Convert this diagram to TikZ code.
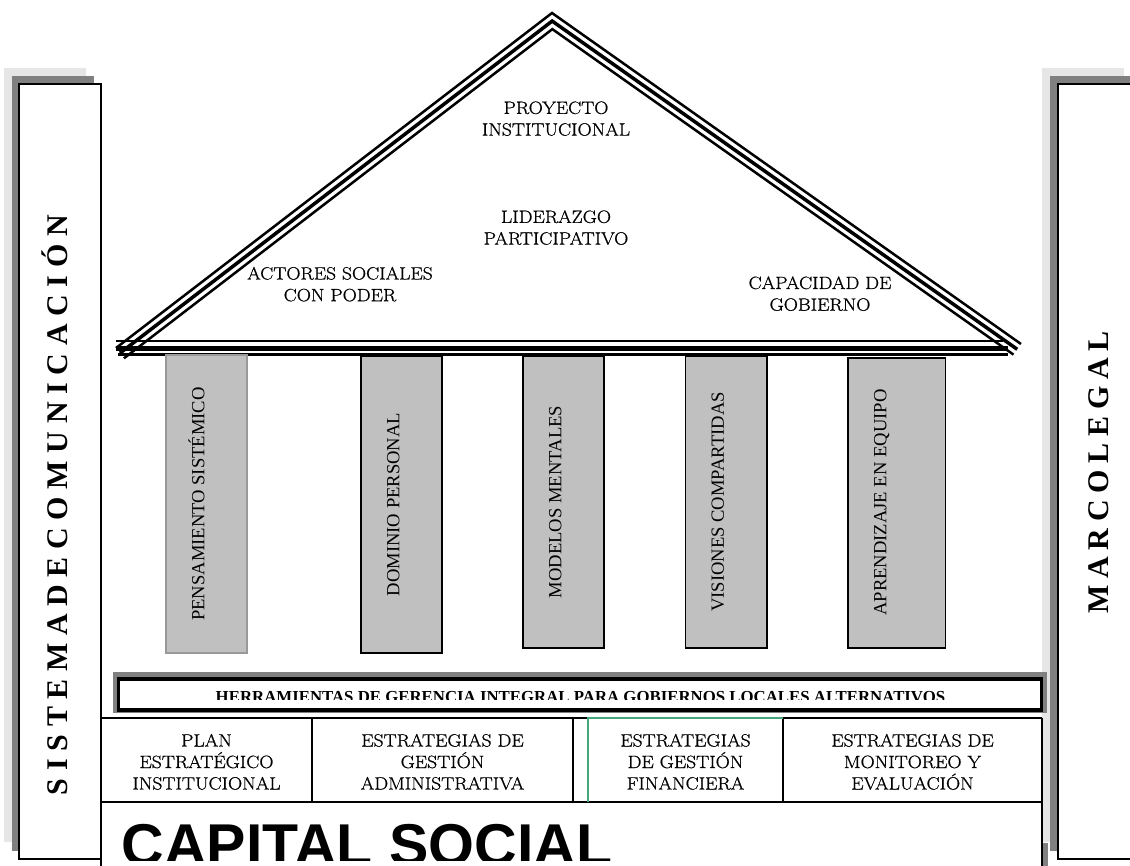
\documentclass[tikz,border=0pt]{standalone}
\usepackage{fontspec}
\newfontfamily\tnr{Liberation Serif}
\newfontfamily\arl{Liberation Sans}
\newfontfamily\lmheavy{Latin Modern Roman}[FakeBold=0.8, FakeStretch=1.1]
\definecolor{pillargray}{HTML}{C0C0C0}
\definecolor{shadowlight}{HTML}{E6E6E6}
\definecolor{shadowdark}{HTML}{808080}
\definecolor{pillaredge}{HTML}{999999}
\definecolor{cellgreen}{HTML}{45A77A}
\tikzset{
  lmtxt/.style={inner sep=0pt, anchor=base, font=\lmheavy\fontsize{17.8}{21.7}\selectfont},
  coltxt/.style={inner sep=0pt, anchor=base, rotate=90, font=\tnr\fontsize{18.6}{22}\selectfont},
  sidetxt/.style={inner sep=0pt, anchor=base, rotate=90, font=\tnr\bfseries\fontsize{30}{36}\selectfont},
  pillar/.style={fill=pillargray, draw=black, line width=1.5pt},
  thinborder/.style={draw=black, line width=1.3pt},
  roofline/.style={draw=black, line join=miter},
}
\begin{document}
\begin{tikzpicture}[x=1pt,y=-1pt]
\useasboundingbox (0,0) rectangle (1130,866);
\clip (0,0) rectangle (1130,866);

% ---------- left side bar ----------
\fill[shadowlight] (4,68) rectangle (86,842);
\fill[shadowdark] (12,76) rectangle (94,851);
\draw[thinborder, fill=white] (19,84) rectangle (101,859);
\node[sidetxt] (sistema) at (67,505) {\makebox[580pt][s]{S\hfill I\hfill S\hfill T\hfill E\hfill M\hfill A\hfill D\hfill E\hfill C\hfill O\hfill M\hfill U\hfill N\hfill I\hfill C\hfill A\hfill C\hfill I\hfill Ó\hfill N}};

% ---------- right side bar ----------
\fill[shadowlight] (1042,68) rectangle (1124,842);
\fill[shadowdark] (1050,76) rectangle (1132,851);
\draw[thinborder, fill=white] (1058,84) rectangle (1140,859);
\node[sidetxt] (marco) at (1108.5,472.5) {\makebox[282pt][s]{M\hfill A\hfill R\hfill C\hfill O\hfill L\hfill E\hfill G\hfill A\hfill L}};

% ---------- roof ----------
\draw[roofline, line width=2.5pt] (116,348) -- (552,13) -- (1021,344);
\draw[roofline, line width=3.5pt] (119.96,353.15) -- (552.16,21.07) -- (1017.25,349.31);
\draw[roofline, line width=2.5pt] (123.92,358.31) -- (552.33,29.14) -- (1013.5,354.62);
% eaves
\draw[line width=1.6pt] (116,341) -- (1003,341);
\draw[line width=5pt] (116,348.2) -- (1008,348.2);
\draw[line width=2.8pt] (118,354.7) -- (1008,354.7);

\node[lmtxt] (proy1) at (556,113.9) {PROYECTO};
\node[lmtxt] (proy2) at (556,135.6) {INSTITUCIONAL};
\node[lmtxt] (lid1) at (556,222.9) {LIDERAZGO};
\node[lmtxt] (lid2) at (556,244.6) {PARTICIPATIVO};
\node[lmtxt] (act1) at (340,279.5) {ACTORES SOCIALES};
\node[lmtxt] (act2) at (340,301.2) {CON PODER};
\node[lmtxt] (cap1) at (820,289) {CAPACIDAD DE};
\node[lmtxt] (cap2) at (820,310.7) {GOBIERNO};

% ---------- pillars ----------
\draw[pillar, draw=pillaredge] (166,355) rectangle (247,653);
\draw[pillar] (361,356) rectangle (442,653);
\draw[pillar] (523,356) rectangle (604,648);
\draw[pillar] (685.5,356) rectangle (767,648);
\draw[pillar] (848,358) rectangle (945.5,648);
\node[coltxt] (p1) at (204.3,504) {PENSAMIENTO SISTÉMICO};
\node[coltxt] (p2) at (399.3,504.5) {DOMINIO PERSONAL};
\node[coltxt] (p3) at (561.3,502) {MODELOS MENTALES};
\node[coltxt] (p4) at (723.8,502) {VISIONES COMPARTIDAS};
\node[coltxt] (p5) at (886.3,502.5) {APRENDIZAJE EN EQUIPO};

% ---------- herramientas band ----------
\fill[shadowdark] (113,672) rectangle (1047,713);
\draw[line width=3.5pt, fill=white] (118.5,679) rectangle (1041.5,710);
\begin{scope}
  \clip (121,681) rectangle (1039,699.5);
  \node[inner sep=0pt, anchor=base, font=\tnr\bfseries\fontsize{16.8}{20}\selectfont] (herr) at (580.5,702.8) {HERRAMIENTAS DE GERENCIA INTEGRAL PARA GOBIERNOS LOCALES ALTERNATIVOS};
\end{scope}

% ---------- strategy row ----------
\draw[thinborder] (101,718) -- (588,718);
\draw[thinborder] (783,718) -- (1042,718);
\draw[thinborder] (101,802) -- (1042,802);
\draw[thinborder] (101,718) -- (101,866);
\draw[thinborder] (1042,718) -- (1042,866);
\draw[thinborder] (312,718) -- (312,802);
\draw[thinborder] (573,718) -- (573,802);
\draw[thinborder] (783,718) -- (783,802);
\draw[draw=cellgreen, line width=1.5pt] (588,802) -- (588,718) -- (783,718);
\fill[shadowdark] (1043,843) rectangle (1048,866);

\node[lmtxt] (c1a) at (206.5,746.5) {PLAN};
\node[lmtxt] (c1b) at (206.5,768) {ESTRATÉGICO};
\node[lmtxt] (c1c) at (206.5,789.5) {INSTITUCIONAL};
\node[lmtxt] (c2a) at (442.5,746.5) {ESTRATEGIAS DE};
\node[lmtxt] (c2b) at (442.5,768) {GESTIÓN};
\node[lmtxt] (c2c) at (442.5,789.5) {ADMINISTRATIVA};
\node[lmtxt] (c3a) at (685.5,746.5) {ESTRATEGIAS};
\node[lmtxt] (c3b) at (685.5,768) {DE GESTIÓN};
\node[lmtxt] (c3c) at (685.5,789.5) {FINANCIERA};
\node[lmtxt] (c4a) at (912.5,746.5) {ESTRATEGIAS DE};
\node[lmtxt] (c4b) at (912.5,768) {MONITOREO Y};
\node[lmtxt] (c4c) at (912.5,789.5) {EVALUACIÓN};

% ---------- capital social ----------
\begin{scope}
  \clip (102,803) rectangle (1041,860);
  \node[inner sep=0pt, anchor=base west, font=\arl\bfseries\fontsize{59}{66}\selectfont] (capital) at (121.5,865.5) {CAPITAL SOCIAL};
\end{scope}
\end{tikzpicture}
\end{document}
